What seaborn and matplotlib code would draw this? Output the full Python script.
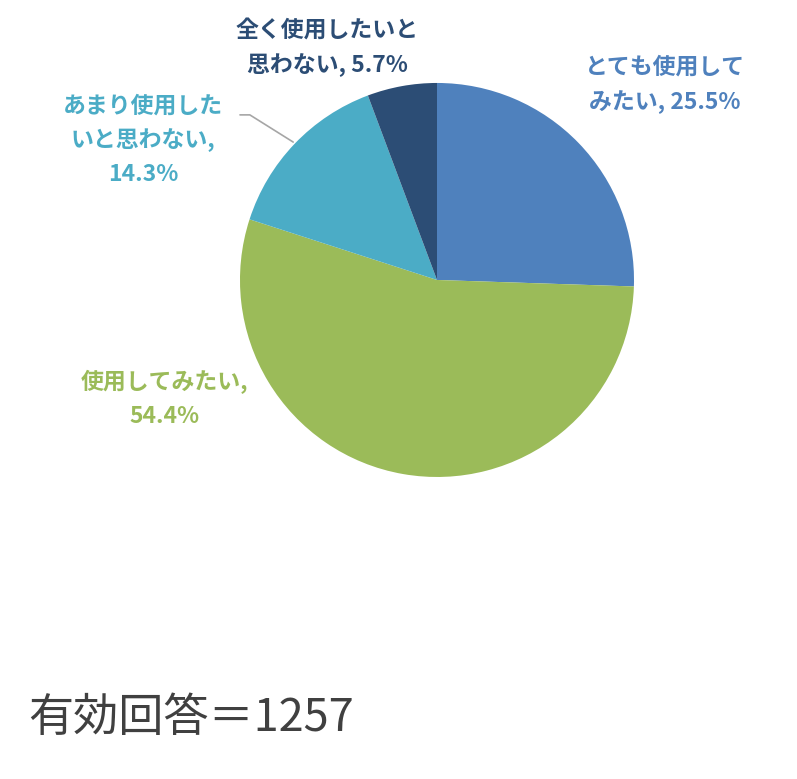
import matplotlib.pyplot as plt
import seaborn as sns

# Data
labels = ["とても使用して\nみたい, 25.5%", "使用してみたい,\n54.4%",
          "あまり使用した\nいと思わない,\n14.3%", "全く使用したいと\n思わない, 5.7%"]
shares = [25.5, 54.4, 14.3, 5.7]
colors = ["#4F81BD", "#9BBB59", "#4BACC6", "#2C4D75"]
note = "有効回答＝1257"

sns.set_style("white")
plt.rcParams['font.family'] = ['Noto Sans CJK JP', 'DejaVu Sans']

fig = plt.figure(figsize=(7.97, 7.79), dpi=100)
ax = fig.add_axes([0.3011, 0.3877, 0.4944, 0.5058])

ax.pie(shares, colors=colors, startangle=90, counterclock=False, radius=1,
       wedgeprops=dict(linewidth=0))
ax.set_xlim(-1, 1)
ax.set_ylim(-1, 1)
ax.set_aspect('equal')
ax.axis('off')

# label positions in pie data units
label_pos = [(1.157, 0.99), (-1.381, -0.605), (-1.492, 0.71), (-0.558, 1.18)]
for txt, (x, y), c in zip(labels, label_pos, colors):
    ax.text(x, y, txt, color=c, fontsize=16.5, fontweight='bold',
            ha='center', va='center', multialignment='center', linespacing=1.6,
            clip_on=False)

# leader line for the small teal slice
ax.plot([-1.0, -0.95, -0.73], [0.838, 0.838, 0.70], color="#A6A6A6",
        linewidth=1.2, clip_on=False)

fig.text(28 / 797, 1 - 718 / 779, note, fontsize=32.5, color="#404040",
         ha='left', va='center')

fig.savefig("out.png", dpi=100)
